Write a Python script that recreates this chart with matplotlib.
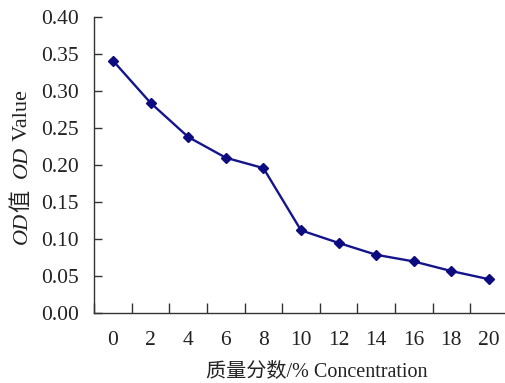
import matplotlib
matplotlib.use("Agg")
import matplotlib.pyplot as plt
import numpy as np

categories = ["0", "2", "4", "6", "8", "10", "12", "14", "16", "18", "20"]
od_values = [0.341, 0.284, 0.238, 0.210, 0.196, 0.112, 0.095, 0.079, 0.070, 0.057, 0.046]
y_ticks = [0.00, 0.05, 0.10, 0.15, 0.20, 0.25, 0.30, 0.35, 0.40]
ylabel_parts = [("OD", "italic"), ("值", "normal"), ("  ", "normal"), ("OD", "italic"), (" Value", "normal")]
xlabel_text = "质量分数/% Concentration"

plt.rcParams['font.family'] = ['Liberation Serif', 'Noto Sans CJK SC']

W, H = 506, 383
fig = plt.figure(figsize=(W / 100, H / 100), dpi=100)
x0, x1 = 94.2 / W, 507.8 / W
y0, y1 = 1 - 313.3 / H, 1 - 17 / H
ax = fig.add_axes([x0, y0, x1 - x0, y1 - y0])

x = np.arange(len(categories))
ax.plot(x, od_values, color='#14148c', linewidth=1.7, marker='D', markersize=5.5,
        markerfacecolor='#0c0c80', markeredgecolor='#0c0c80')

ax.set_xlim(-0.5, len(categories) - 0.5)
ax.set_ylim(0, 0.40)
ax.set_yticks(y_ticks)
ax.set_yticklabels([f"{v:.2f}" for v in y_ticks])
ax.set_xticks(x)
ax.set_xticklabels(categories)
ax.set_xticks(np.arange(-0.5, len(categories) + 0.5, 1), minor=True)

for s in ['top', 'right']:
    ax.spines[s].set_visible(False)
for s in ['left', 'bottom']:
    ax.spines[s].set_linewidth(1.0)
    ax.spines[s].set_color('#333333')

fs_tick = 15.5
fs_label = 14.5
ax.tick_params(axis='y', direction='in', length=6, width=1.0, pad=11,
               labelsize=fs_tick, colors='#333333', labelcolor='#222222')
ax.tick_params(axis='x', which='major', length=0, pad=13, labelsize=fs_tick, labelcolor='#222222')
ax.tick_params(axis='x', which='minor', direction='in', length=7, width=1.0, colors='#333333')

ax.set_xlabel(xlabel_text, fontsize=fs_label, color='#222222')
ax.xaxis.set_label_coords((317 - 94.2) / (507.8 - 94.2), -0.165)

# y label built from pieces (italic OD + CJK + serif)
fs_y = 16
renderer = fig.canvas.get_renderer()
widths = []
for txt, style in ylabel_parts:
    t = fig.text(0, 0, txt, fontsize=fs_y, style=style)
    bb = t.get_window_extent(renderer)
    widths.append(bb.width)
    t.remove()
total = sum(widths)
center_y = H - 167
ypos = center_y - total / 2
for (txt, style), w in zip(ylabel_parts, widths):
    fig.text(27 / W, ypos / H, txt, fontsize=fs_y, style=style, rotation=90,
             rotation_mode='anchor', ha='left', va='baseline', color='#222222')
    ypos += w

fig.savefig("out.png", dpi=100)
